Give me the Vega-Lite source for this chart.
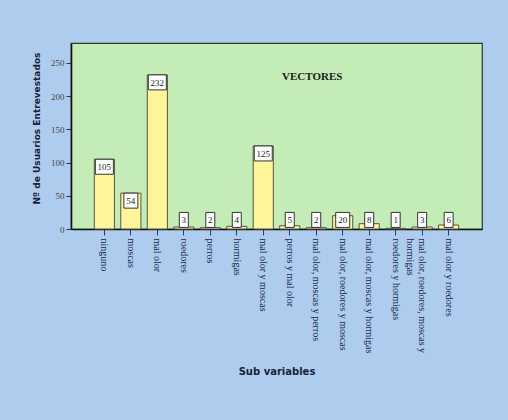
{
  "$schema": "https://vega.github.io/schema/vega-lite/v6.json",
  "width": 411,
  "height": 186,
  "autosize": {"type": "none"},
  "padding": {"left": 71, "top": 43, "right": 26, "bottom": 191},
  "background": "#aecdee",
  "config": {
    "view": {"fill": "#c4ecb6", "stroke": "#2a3a2a", "strokeWidth": 1.2},
    "axisY": {
      "titleFont": "DejaVu Sans",
      "titleFontSize": 9,
      "titleFontWeight": "bold",
      "titleColor": "#1a2233",
      "grid": false,
      "labelFont": "Liberation Serif",
      "labelFontSize": 9,
      "labelColor": "#444444",
      "tickSize": 5,
      "tickColor": "#333333",
      "domainColor": "#111111",
      "domainWidth": 1.6
    }
  },
  "data": {
    "values": [
      {"sub": "ninguno", "count": 105},
      {"sub": "moscas", "count": 54},
      {"sub": "mal olor", "count": 232},
      {"sub": "roedores", "count": 3},
      {"sub": "perros", "count": 2},
      {"sub": "hormigas", "count": 4},
      {"sub": "mal olor y moscas", "count": 125},
      {"sub": "perros y mal olor", "count": 5},
      {"sub": "mal olor, moscas y perros", "count": 2},
      {"sub": "mal olor, roedores y moscas", "count": 20},
      {"sub": "mal olor, moscas y hormigas", "count": 8},
      {"sub": "roedores y hormigas", "count": 1},
      {"sub": "mal olor, roedores, moscas y hormigas", "count": 3},
      {"sub": "mal olor y roedores", "count": 6}
    ]
  },
  "encoding": {
    "x": {
      "field": "sub",
      "type": "nominal",
      "sort": null,
      "scale": {"paddingInner": 0.24, "paddingOuter": 0.88},
      "axis": {
        "title": "Sub variables",
        "titleFont": "DejaVu Sans",
        "titleFontSize": 10,
        "titleFontWeight": "bold",
        "titleColor": "#1a2233",
        "titleY": 142,
        "titleBaseline": "middle",
        "labelAngle": 90,
        "labelFont": "Liberation Serif",
        "labelFontSize": 10,
        "labelColor": "#1a2450",
        "labelPadding": 3,
        "labelLimit": 0,
        "labelExpr": "datum.value == 'mal olor, roedores, moscas y hormigas' ? ['mal olor, roedores, moscas y', 'hormigas'] : datum.value",
        "tickSize": 6,
        "tickColor": "#1f3f8f",
        "domainColor": "#111111",
        "domainWidth": 1.6
      }
    }
  },
  "layer": [
    {
      "mark": {"type": "bar", "fill": "#fff59a", "stroke": "#555544", "strokeWidth": 1},
      "encoding": {
        "y": {
          "field": "count",
          "type": "quantitative",
          "scale": {"domain": [0, 280], "nice": false},
          "axis": {"title": "Nº de Usuarios Entrevestados", "titleX": -35, "titleY": 85, "titleBaseline": "middle", "values": [0, 50, 100, 150, 200, 250], "labelOverlap": false}
        }
      }
    },
    {
      "transform": [{"filter": "datum.count >= 25"}],
      "mark": {"type": "bar", "fill": "#ffffff", "stroke": "#333333", "strokeWidth": 1, "y2Offset": 15},
      "encoding": {
        "y": {"field": "count", "type": "quantitative", "axis": {"title": "Nº de Usuarios Entrevestados", "titleX": -35, "titleY": 85, "titleBaseline": "middle", "values": [0, 50, 100, 150, 200, 250], "labelOverlap": false}},
        "y2": {"field": "count"},
        "size": {"field": "count", "type": "quantitative", "scale": {"type": "threshold", "domain": [10, 100], "range": [9, 14, 18]}, "legend": null}
      }
    },
    {
      "transform": [{"filter": "datum.count < 25"}],
      "mark": {"type": "bar", "fill": "#ffffff", "stroke": "#333333", "strokeWidth": 1, "y2Offset": 15},
      "encoding": {
        "y": {"datum": 25, "type": "quantitative", "axis": {"title": "Nº de Usuarios Entrevestados", "titleX": -35, "titleY": 85, "titleBaseline": "middle", "values": [0, 50, 100, 150, 200, 250], "labelOverlap": false}},
        "y2": {"datum": 25},
        "size": {"field": "count", "type": "quantitative", "scale": {"type": "threshold", "domain": [10, 100], "range": [9, 14, 18]}, "legend": null}
      }
    },
    {
      "transform": [{"filter": "datum.count >= 25"}],
      "mark": {"type": "text", "font": "Liberation Serif", "fontSize": 9, "color": "#222222", "baseline": "middle", "dy": 8},
      "encoding": {
        "y": {"field": "count", "type": "quantitative", "axis": {"title": "Nº de Usuarios Entrevestados", "titleX": -35, "titleY": 85, "titleBaseline": "middle", "values": [0, 50, 100, 150, 200, 250], "labelOverlap": false}},
        "text": {"field": "count", "type": "quantitative"}
      }
    },
    {
      "transform": [{"filter": "datum.count < 25"}],
      "mark": {"type": "text", "font": "Liberation Serif", "fontSize": 9, "color": "#222222", "baseline": "middle", "dy": 8},
      "encoding": {
        "y": {"datum": 25, "type": "quantitative", "axis": {"title": "Nº de Usuarios Entrevestados", "titleX": -35, "titleY": 85, "titleBaseline": "middle", "values": [0, 50, 100, 150, 200, 250], "labelOverlap": false}},
        "text": {"field": "count", "type": "quantitative"}
      }
    },
    {
      "data": {"values": [{"label": "VECTORES", "sub": "mal olor, moscas y perros", "pos": 229}]},
      "mark": {"type": "text", "font": "Liberation Serif", "fontSize": 11, "fontWeight": "bold", "color": "#1a1a1a", "baseline": "middle", "dx": -4},
      "encoding": {
        "y": {"field": "pos", "type": "quantitative", "axis": {"title": "Nº de Usuarios Entrevestados", "titleX": -35, "titleY": 85, "titleBaseline": "middle", "values": [0, 50, 100, 150, 200, 250], "labelOverlap": false}},
        "text": {"field": "label"}
      }
    }
  ]
}
